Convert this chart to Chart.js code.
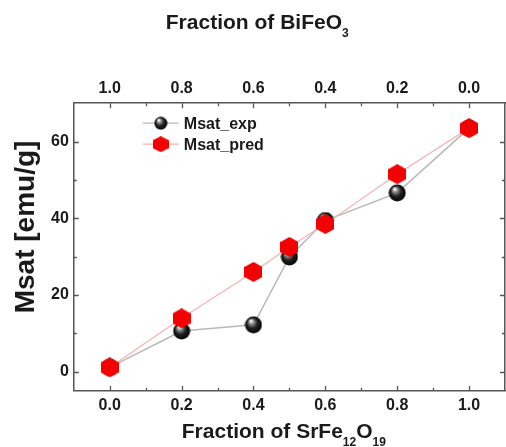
<!DOCTYPE html>
<html>
<head>
<meta charset="utf-8">
<script src="https://cdn.jsdelivr.net/npm/chart.js@4.4.0/dist/chart.umd.min.js"></script>
<style>
  html, body { margin: 0; padding: 0; background: #fff; }
  #wrap { width: 506px; height: 447px; }
</style>
</head>
<body>
<div id="wrap"><canvas id="msatChart" width="506" height="447"></canvas></div>
<script>
// data
const fractionSr = [0, 0.2, 0.4, 0.5, 0.6, 0.8, 1.0];
const msatExp = [1.1, 10.6, 12.2, 29.9, 39.4, 46.6, 63.5];
const msatPred = [1.1, 13.9, 26.0, 32.5, 38.5, 51.5, 63.5];

// tick values
const xTicks = [0, 0.2, 0.4, 0.6, 0.8, 1.0];
const xMinor = [0.1, 0.3, 0.5, 0.7, 0.9];
const topTicks = [1.0, 0.8, 0.6, 0.4, 0.2, 0.0];
const yTicks = [0, 20, 40, 60];
const yMinor = [10, 30, 50];

const FONT = "'Liberation Sans', Arial, sans-serif";
const TEXT = '#1a1a1a';
const AXIS = '#555';

// marker images
function makeSphere(d) {
  const c = document.createElement('canvas');
  c.width = d; c.height = d;
  const g = c.getContext('2d');
  const r = d / 2;
  const grad = g.createRadialGradient(r - r * 0.3, r - r * 0.45, 0.5, r, r, r);
  grad.addColorStop(0, '#ffffff');
  grad.addColorStop(0.2, '#9a9a9a');
  grad.addColorStop(0.55, '#222');
  grad.addColorStop(1, '#000');
  g.fillStyle = grad;
  g.beginPath();
  g.arc(r, r, r - 0.5, 0, Math.PI * 2);
  g.fill();
  return c;
}

function makeHexagon(w, h) {
  const c = document.createElement('canvas');
  c.width = w; c.height = h;
  const g = c.getContext('2d');
  const cx = w / 2, cy = h / 2, rx = w / 2, ry = h / 2;
  g.fillStyle = '#f40000';
  g.beginPath();
  g.moveTo(cx, cy - ry);
  g.lineTo(cx + rx, cy - ry / 2);
  g.lineTo(cx + rx, cy + ry / 2);
  g.lineTo(cx, cy + ry);
  g.lineTo(cx - rx, cy + ry / 2);
  g.lineTo(cx - rx, cy - ry / 2);
  g.closePath();
  g.fill();
  return c;
}

const sphere = makeSphere(18);
const hexagon = makeHexagon(18, 20);
const sphereSmall = makeSphere(14);
const hexagonSmall = makeHexagon(16, 16);

// inward ticks, titles with subscripts and the inset legend
const decorPlugin = {
  id: 'decor',
  afterDraw(chart) {
    const ctx = chart.ctx;
    const a = chart.chartArea;
    const xs = chart.scales.x, ys = chart.scales.y;
    ctx.save();
    ctx.strokeStyle = AXIS;
    ctx.lineWidth = 1.3;
    ctx.beginPath();
    const vt = (v, len) => {
      const px = Math.round(xs.getPixelForValue(v)) + 0.5;
      ctx.moveTo(px, a.bottom); ctx.lineTo(px, a.bottom - len);
      ctx.moveTo(px, a.top); ctx.lineTo(px, a.top + len);
    };
    const ht = (v, len) => {
      const py = Math.round(ys.getPixelForValue(v)) + 0.5;
      ctx.moveTo(a.left, py); ctx.lineTo(a.left + len, py);
      ctx.moveTo(a.right, py); ctx.lineTo(a.right - len, py);
    };
    xTicks.forEach(v => vt(v, 5));
    xMinor.forEach(v => vt(v, 3));
    yTicks.forEach(v => ht(v, 5));
    yMinor.forEach(v => ht(v, 3));
    ctx.stroke();

    // axis titles
    ctx.fillStyle = TEXT;
    ctx.textAlign = 'left';
    ctx.textBaseline = 'alphabetic';
    const big = 'bold 21px ' + FONT, small = 'bold 12px ' + FONT;
    function chem(parts, x, y) {
      parts.forEach(([t, sub]) => {
        ctx.font = sub ? small : big;
        ctx.fillText(t, x, sub ? y + 8 : y);
        x += ctx.measureText(t).width;
      });
    }
    chem([['Fraction of SrFe', false], ['12', true], ['O', false], ['19', true]], a.left + 108, a.bottom + 47);
    chem([['Fraction of BiFeO', false], ['3', true]], a.left + 92, 29);

    ctx.save();
    ctx.translate(25, 227);
    ctx.rotate(-Math.PI / 2);
    ctx.font = 'bold 28px ' + FONT;
    ctx.textAlign = 'center';
    ctx.textBaseline = 'middle';
    ctx.fillText('Msat [emu/g]', 0, 1);
    ctx.restore();

    // legend
    const items = [
      { label: 'Msat_exp', line: '#b8b8b8', img: sphereSmall, y: a.top + 20 },
      { label: 'Msat_pred', line: '#f3b3b3', img: hexagonSmall, y: a.top + 41 }
    ];
    ctx.font = 'bold 16px ' + FONT;
    ctx.textBaseline = 'middle';
    items.forEach(it => {
      ctx.strokeStyle = it.line;
      ctx.lineWidth = 1.3;
      ctx.beginPath();
      ctx.moveTo(a.left + 69, it.y); ctx.lineTo(a.left + 105, it.y);
      ctx.stroke();
      ctx.drawImage(it.img, a.left + 87 - it.img.width / 2, it.y - it.img.height / 2);
      ctx.fillStyle = TEXT;
      ctx.fillText(it.label, a.left + 110, it.y + 1);
    });
    ctx.restore();
  }
};

const tickFont = { family: FONT, size: 16, weight: 'bold' };

new Chart(document.getElementById('msatChart'), {
  type: 'scatter',
  data: {
    datasets: [
      {
        label: 'Msat_exp',
        data: fractionSr.map((x, i) => ({ x, y: msatExp[i] })),
        showLine: true,
        borderColor: '#b8b8b8',
        borderWidth: 1.5,
        pointStyle: sphere,
        pointRadius: 9,
        order: 2
      },
      {
        label: 'Msat_pred',
        data: fractionSr.map((x, i) => ({ x, y: msatPred[i] })),
        showLine: true,
        borderColor: '#f3b3b3',
        borderWidth: 1.2,
        pointStyle: hexagon,
        pointRadius: 10,
        order: 1
      }
    ]
  },
  options: {
    responsive: false,
    animation: false,
    devicePixelRatio: 1,
    layout: { autoPadding: false, padding: { left: 46, right: 1, top: 74, bottom: 27 } },
    plugins: { legend: { display: false }, tooltip: { enabled: false } },
    scales: {
      x: {
        type: 'linear', position: 'bottom', min: -0.1, max: 1.1,
        afterBuildTicks: s => { s.ticks = xTicks.map(v => ({ value: v })); },
        ticks: { font: tickFont, color: TEXT, padding: 5, maxRotation: 0, callback: v => Number(v).toFixed(1) },
        grid: { display: false, drawTicks: false },
        border: { display: true, color: AXIS, width: 1.5 }
      },
      x2: {
        type: 'linear', position: 'top', display: true, reverse: true, min: -0.1, max: 1.1,
        afterBuildTicks: s => { s.ticks = topTicks.map(v => ({ value: v })); },
        ticks: { font: tickFont, color: TEXT, padding: 5, maxRotation: 0, callback: v => Number(v).toFixed(1) },
        grid: { display: false, drawTicks: false },
        border: { display: true, color: AXIS, width: 1.5 }
      },
      y: {
        type: 'linear', position: 'left', min: -5, max: 70,
        afterBuildTicks: s => { s.ticks = yTicks.map(v => ({ value: v })); },
        ticks: { font: tickFont, color: TEXT, padding: 5 },
        grid: { display: false, drawTicks: false },
        border: { display: true, color: AXIS, width: 1.5 }
      },
      y2: {
        type: 'linear', position: 'right', display: true, min: -5, max: 70,
        ticks: { display: false },
        grid: { display: false, drawTicks: false },
        border: { display: true, color: AXIS, width: 1.5 }
      }
    }
  },
  plugins: [decorPlugin]
});
</script>
</body>
</html>
